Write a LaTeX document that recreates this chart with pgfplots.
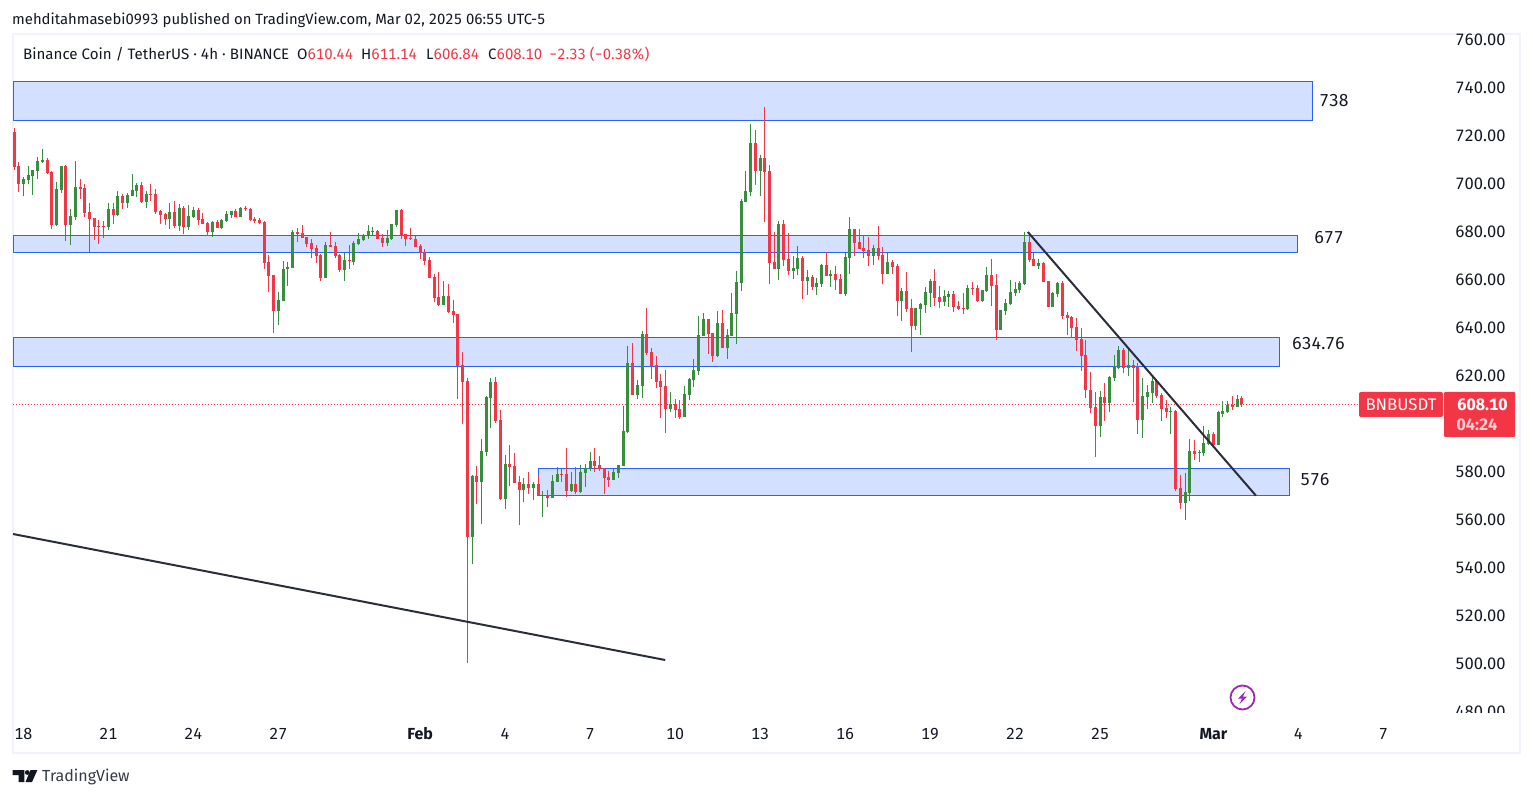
\documentclass[border=0pt]{standalone}
\usepackage{fontspec}
\setmainfont{Fira Sans}[Numbers={Lining,Monospaced}]
\usepackage{pgfplots}
\usepackage{pgfplotstable}
\pgfplotsset{compat=1.18}
\definecolor{cgreen}{HTML}{388E3C}
\definecolor{cred}{HTML}{F23645}
\definecolor{bandfill}{HTML}{D4E0FF}
\definecolor{bandline}{HTML}{2962FF}
\definecolor{ink}{HTML}{131722}
\definecolor{trend}{HTML}{2A2E39}
\definecolor{frame}{HTML}{F0F3FA}
\pgfplotstableread{
i o h l c
0 721.4 722.9 705.4 706.8
1 707.1 708.8 696.2 699.7
2 699.7 702.5 694.6 701.7
3 701.2 707.1 699.6 703.3
4 702.9 705.4 695.0 705.4
5 705.1 710.8 701.7 709.2
6 708.8 714.2 708.3 709.4
7 709.6 710.4 703.8 704.2
8 704.6 705.0 680.8 682.5
9 682.5 700.4 682.1 697.5
10 697.1 707.1 695.8 707.1
11 707.1 707.5 675.8 682.5
12 682.5 689.2 674.2 686.2
13 685.8 709.2 684.6 698.3
14 698.3 701.7 693.3 697.5
15 697.9 699.6 685.8 687.5
16 687.9 691.7 671.1 685.0
17 685.4 685.4 676.2 681.7
18 682.1 684.6 674.6 681.7
19 682.1 684.2 677.1 681.7
20 681.7 691.7 680.4 689.2
21 689.2 691.7 682.9 686.7
22 686.7 696.7 686.2 694.6
23 694.6 695.4 689.2 691.7
24 691.7 695.8 689.6 695.0
25 694.6 703.8 694.6 697.1
26 696.7 700.0 694.2 699.2
27 699.2 700.4 691.7 692.1
28 692.1 696.7 689.6 695.4
29 695.4 699.6 692.5 695.0
30 695.4 697.5 687.1 687.9
31 688.3 688.8 682.9 686.7
32 687.1 687.5 682.5 685.0
33 685.0 691.7 680.8 687.9
34 687.9 692.5 681.2 682.1
35 682.1 691.2 680.0 689.6
36 689.6 690.4 678.7 681.7
37 681.7 690.8 680.4 686.2
38 685.8 690.0 685.4 688.8
39 688.8 689.6 682.5 684.6
40 685.0 687.5 682.9 682.9
41 683.3 683.7 677.9 679.6
42 679.6 684.2 677.5 683.7
43 683.7 684.6 681.2 681.2
44 681.2 685.0 680.8 684.6
45 684.2 688.3 683.7 687.1
46 686.7 688.3 685.4 688.3
47 688.3 689.2 685.8 685.8
48 685.8 690.0 685.8 689.6
49 689.6 690.4 688.3 689.2
50 689.2 689.6 684.2 684.6
51 685.0 685.8 683.3 684.2
52 684.6 685.4 682.9 683.3
53 683.8 684.2 664.2 666.7
54 667.1 670.0 654.6 661.2
55 661.7 661.7 637.5 646.7
56 646.7 654.6 640.8 651.2
57 650.8 667.5 650.8 664.2
58 664.2 667.1 657.1 665.0
59 664.6 680.4 664.6 679.6
60 679.6 681.2 675.4 678.7
61 679.2 682.5 677.1 677.1
62 677.5 677.5 673.3 674.6
63 675.0 676.7 668.8 672.5
64 672.9 674.2 666.7 669.6
65 670.0 670.4 659.2 660.4
66 660.4 675.4 660.4 674.2
67 674.2 679.6 673.3 673.3
68 673.8 675.4 668.8 669.6
69 670.0 670.4 662.9 663.8
70 663.8 670.8 659.2 667.9
71 667.9 674.2 664.2 667.5
72 667.1 675.8 665.8 675.0
73 674.6 679.2 674.2 676.7
74 676.2 678.7 675.8 678.3
75 677.9 682.5 676.7 680.0
76 679.6 681.7 678.3 680.0
77 680.0 680.4 676.7 676.7
78 677.1 678.7 673.3 675.0
79 675.0 680.4 673.8 677.1
80 676.7 682.9 676.2 682.9
81 682.5 688.8 681.7 688.8
82 688.8 689.2 676.7 678.3
83 678.7 678.7 673.8 676.7
84 677.1 681.2 676.2 676.7
85 676.7 677.9 673.3 673.3
86 673.8 674.6 668.3 670.8
87 671.2 672.5 665.8 667.5
88 667.9 669.2 660.4 660.4
89 660.8 662.1 650.4 652.1
90 652.5 662.9 648.8 649.2
91 649.2 659.2 649.2 652.9
92 652.9 657.9 645.8 646.2
93 646.7 651.2 641.7 645.0
94 645.4 645.4 610.0 623.8
95 624.2 629.6 599.6 617.1
96 617.5 618.8 500.0 552.5
97 552.5 578.3 541.2 577.9
98 577.9 582.1 566.2 575.4
99 575.4 593.3 557.9 588.3
100 587.9 611.2 586.2 610.8
101 610.4 618.8 597.9 617.1
102 617.1 619.2 600.0 600.8
103 601.2 605.4 567.9 568.3
104 568.3 586.7 564.2 582.9
105 582.9 590.8 573.8 581.7
106 582.1 587.5 575.0 575.0
107 575.4 577.9 557.5 572.1
108 572.1 577.1 567.1 574.6
109 574.6 579.6 570.4 572.9
110 572.9 575.4 567.9 574.6
111 574.6 578.3 569.6 569.6
112 569.6 571.7 560.8 570.0
113 570.0 572.1 565.0 568.8
114 568.8 578.3 568.8 575.8
115 575.4 581.7 575.4 578.8
116 578.8 580.8 575.4 578.3
117 578.8 589.6 569.2 571.7
118 571.7 579.6 571.2 574.6
119 574.6 581.7 570.4 571.2
120 571.2 582.5 570.8 579.6
121 579.2 582.9 573.3 581.2
122 580.8 587.9 580.0 584.2
123 584.2 589.6 579.6 582.1
124 582.5 586.2 580.0 580.8
125 581.2 581.2 570.4 577.1
126 577.5 580.0 573.3 576.2
127 576.2 580.8 576.2 579.6
128 579.2 582.5 577.1 582.5
129 582.1 607.1 582.1 596.7
130 596.2 632.1 595.8 625.0
131 625.0 633.3 611.7 611.7
132 611.7 617.9 610.0 615.8
133 615.4 638.3 610.4 637.1
134 637.1 647.9 628.3 629.2
135 629.6 631.2 618.3 623.8
136 624.2 627.9 614.6 617.1
137 617.5 620.4 602.1 615.0
138 615.4 622.1 595.8 605.8
139 605.8 612.9 604.6 607.9
140 607.9 610.0 602.1 605.4
141 605.8 609.6 601.7 602.5
142 602.5 615.4 602.5 612.1
143 611.7 618.8 609.6 618.3
144 617.9 626.7 615.0 622.1
145 621.7 644.6 620.0 636.7
146 636.2 645.8 636.2 643.3
147 643.3 643.3 628.8 637.1
148 637.5 637.5 625.4 627.9
149 627.9 646.7 627.5 641.7
150 641.7 647.1 631.2 631.2
151 631.2 639.2 626.7 636.7
152 636.2 654.2 636.2 645.8
153 645.4 663.3 632.9 658.8
154 658.3 693.3 655.0 692.5
155 692.1 705.0 692.1 696.7
156 696.2 724.6 694.6 716.7
157 716.7 722.1 699.2 705.0
158 705.0 711.7 694.6 710.4
159 710.4 731.7 683.7 704.6
160 705.0 707.5 657.9 666.7
161 667.1 679.6 664.2 664.2
162 664.2 684.2 659.6 682.9
163 682.9 684.6 665.4 667.9
164 668.3 679.2 661.7 663.3
165 663.3 669.6 660.0 664.6
166 664.2 673.8 661.7 668.8
167 668.8 669.6 651.7 659.2
168 659.2 663.8 653.3 660.8
169 660.8 661.7 655.4 656.7
170 656.7 660.4 653.3 658.3
171 657.9 666.2 656.7 665.8
172 665.8 671.2 661.2 661.2
173 661.2 663.8 656.7 662.1
174 662.1 665.4 655.4 659.6
175 660.0 662.1 653.8 653.8
176 653.8 670.8 652.9 669.2
177 668.8 685.8 662.1 680.8
178 680.8 680.8 669.6 675.0
179 675.4 680.8 672.5 672.5
180 672.9 677.9 668.8 671.7
181 672.1 677.5 665.4 669.6
182 669.6 674.2 665.8 672.9
183 672.9 682.1 667.9 669.6
184 670.0 673.3 657.9 662.1
185 662.1 670.8 662.1 667.1
186 667.1 667.9 662.1 665.0
187 665.4 666.2 644.6 650.8
188 650.8 656.2 642.5 655.0
189 655.0 662.9 646.2 647.5
190 647.9 651.7 629.6 640.4
191 640.4 647.9 638.8 647.9
192 647.5 650.0 636.7 649.6
193 649.2 656.7 645.8 654.6
194 654.2 660.0 648.3 659.2
195 659.2 664.2 648.8 652.1
196 652.5 657.1 647.9 650.4
197 650.4 655.4 648.8 652.9
198 652.5 655.0 648.3 653.8
199 653.8 655.0 646.2 648.3
200 648.8 650.8 647.1 647.5
201 647.9 654.2 645.4 647.5
202 647.5 657.5 647.1 656.2
203 656.2 658.8 653.3 655.8
204 656.2 657.5 650.4 650.8
205 650.8 655.4 650.4 655.4
206 655.0 665.0 654.6 661.7
207 661.7 668.3 648.8 657.1
208 657.5 662.1 634.6 638.8
209 638.8 647.1 638.8 647.1
210 646.7 651.7 645.0 650.0
211 649.6 659.6 649.2 654.6
212 654.2 658.8 652.9 655.8
213 655.4 659.2 654.2 658.3
214 657.9 679.6 657.5 675.4
215 675.4 678.3 667.1 667.9
216 668.3 670.8 665.4 665.4
217 665.4 668.3 664.2 666.7
218 666.7 667.1 658.8 658.8
219 659.2 659.2 648.3 648.3
220 648.3 654.6 648.3 654.2
221 653.8 658.8 652.5 658.3
222 658.3 659.2 643.3 644.6
223 645.0 646.2 636.7 643.8
224 644.2 644.6 635.4 639.6
225 640.0 643.8 630.0 634.6
226 635.0 639.6 621.7 627.9
227 628.3 634.6 610.4 613.8
228 613.8 621.2 604.2 606.2
229 606.7 612.9 585.8 598.7
230 598.7 613.3 594.2 610.8
231 610.8 616.7 600.8 608.3
232 608.3 619.6 604.6 619.2
233 618.8 628.3 617.5 623.8
234 622.9 632.1 622.5 630.4
235 630.4 631.2 620.8 622.9
236 622.9 631.2 619.6 624.2
237 624.2 626.2 608.8 622.9
238 623.3 625.0 595.4 601.2
239 601.2 618.8 593.7 611.2
240 610.8 615.8 605.8 612.9
241 612.5 620.0 608.3 617.5
242 617.5 617.9 610.4 611.2
243 611.7 612.5 600.8 605.8
244 606.2 609.6 602.1 604.6
245 604.6 606.7 595.4 605.0
246 605.0 605.4 571.7 572.5
247 572.9 578.3 564.2 566.7
248 566.7 579.2 559.6 571.2
249 570.8 593.3 567.5 588.3
250 588.3 592.9 584.6 587.1
251 587.5 588.8 583.8 587.9
252 587.5 598.8 586.2 591.7
253 591.2 597.1 590.8 595.4
254 595.4 596.2 590.4 590.8
255 590.8 605.0 590.8 604.6
256 603.8 609.2 602.5 605.0
257 604.6 609.2 604.2 607.5
258 607.5 611.2 605.4 606.7
259 606.7 611.7 606.7 610.0
260 610.44 611.14 606.84 608.10
}\cand
\newcommand{\fs}[1]{\fontsize{#1}{#1}\selectfont}
\begin{document}
\begin{tikzpicture}[x=1pt,y=1pt]
\useasboundingbox (0,0) rectangle (1533,798);
\fill[white] (0,0) rectangle (1533,798);
% frame
\draw[frame,line width=2pt] (12.5,45) -- (12.5,764) -- (1520,764) -- (1520,45) -- cycle;
\begin{axis}[
  at={(13pt,87pt)}, anchor=south west, scale only axis,
  width=1430pt, height=676pt,
  xmin=-0.2118, xmax=302.63, ymin=480, ymax=761.67,
  axis line style={draw=none},
  major tick length=0pt,
  unbounded coords=discard,
  xtick={2,20,38,56,86,104,122,140,158,176,194,212,230,254,272,290},
  xticklabels={18,21,24,27,{\fontseries{sb}\selectfont Feb},4,7,10,13,16,19,22,25,{\fontseries{sb}\selectfont Mar},4,7},
  xticklabel style={anchor=base,yshift=-28pt,font=\fs{16},text=ink},
  ytick={480,500,520,540,560,580,620,640,660,680,700,720,740,760},
  yticklabel pos=right,
  yticklabel style={anchor=east,xshift=66pt,yshift=-0.7pt,font=\fs{16.5},text=ink,
    /pgf/number format/.cd,fixed,fixed zerofill,precision=2,assume math mode=true},
]
% zones
\addplot[forget plot,draw=bandline,fill=bandfill,line width=1pt] coordinates {(-0.21,742.1)(274.9,742.1)(274.9,726.0)(-0.21,726.0)} -- cycle;
\addplot[forget plot,draw=bandline,fill=bandfill,line width=1pt] coordinates {(-0.21,678.2)(271.9,678.2)(271.9,671.2)(-0.21,671.2)} -- cycle;
\addplot[forget plot,draw=bandline,fill=bandfill,line width=1pt] coordinates {(-0.21,635.7)(268.0,635.7)(268.0,623.6)(-0.21,623.6)} -- cycle;
\addplot[forget plot,draw=bandline,fill=bandfill,line width=1pt] coordinates {(111.0,581.1)(270.1,581.1)(270.1,569.9)(111.0,569.9)} -- cycle;
% price line
\addplot[forget plot,color=cred,line width=1.1pt,line cap=butt,dash pattern=on 1.2pt off 1.8pt] coordinates {(-0.21,607.8)(284.6,607.8)};
% wicks up
\addplot[forget plot,draw=none,no markers,error bars/.cd,y dir=both,y explicit,error mark=none,error bar style={line width=1pt,draw=cgreen}]
  table[x expr={\thisrow{c}>=\thisrow{o}?\thisrow{i}:nan},y=o,y error plus expr=\thisrow{h}-\thisrow{o},y error minus expr=\thisrow{o}-\thisrow{l}] {\cand};
% wicks down
\addplot[forget plot,draw=none,no markers,error bars/.cd,y dir=both,y explicit,error mark=none,error bar style={line width=1pt,draw=cred}]
  table[x expr={\thisrow{c}<\thisrow{o}?\thisrow{i}:nan},y=o,y error plus expr=\thisrow{h}-\thisrow{o},y error minus expr=\thisrow{o}-\thisrow{l}] {\cand};
% bodies up
\addplot[forget plot,draw=none,no markers,error bars/.cd,y dir=plus,y explicit,error mark=none,error bar style={line width=3pt,draw=cgreen}]
  table[x expr={\thisrow{c}>=\thisrow{o}?\thisrow{i}:nan},y=o,y error plus expr=\thisrow{c}-\thisrow{o}] {\cand};
% bodies down
\addplot[forget plot,draw=none,no markers,error bars/.cd,y dir=plus,y explicit,error mark=none,error bar style={line width=3pt,draw=cred}]
  table[x expr={\thisrow{c}<\thisrow{o}?\thisrow{i}:nan},y=c,y error plus expr=\thisrow{o}-\thisrow{c}] {\cand};
% trend lines
\addplot[forget plot,draw=trend,line width=2pt] coordinates {(-0.21,553.75)(137.9,501.25)};
\addplot[forget plot,draw=trend,line width=2pt] coordinates {(214.7,679.6)(263.0,569.75)};
\end{axis}
\begin{scope}[x=1pt,y=-1pt,shift={(0,798pt)}]
\fill[white] (1444,713) rectangle (1518,746);
\node[anchor=west,inner sep=0,text=ink,font=\fs{14.85}] at (12,20) {mehditahmasebi0993 published on TradingView.com, Mar 02, 2025 06:55 UTC-5};
\node[anchor=west,inner sep=0,text=ink,font=\fs{15.1}] at (23,54) {Binance Coin / TetherUS · 4h · BINANCE};
\node[anchor=west,inner sep=0,font=\fs{15},text=ink] at (297,54) {O\textcolor{cred}{610.44}};
\node[anchor=west,inner sep=0,font=\fs{15},text=ink] at (361,54) {H\textcolor{cred}{611.14}};
\node[anchor=west,inner sep=0,font=\fs{15},text=ink] at (426,54) {L\textcolor{cred}{606.84}};
\node[anchor=west,inner sep=0,font=\fs{15},text=ink] at (488,54) {C\textcolor{cred}{608.10}};
\node[anchor=west,inner sep=0,font=\fs{14.8},text=cred] at (549,54) {−2.33 (−0.38\%)};
\node[anchor=center,text=ink,font=\fs{17.3}] at (1334,101) {738};
\node[anchor=center,text=ink,font=\fs{17.3}] at (1329,238) {677};
\node[anchor=center,text=ink,font=\fs{17.3}] at (1318.5,344) {634.76};
\node[anchor=center,text=ink,font=\fs{17.3}] at (1315,480) {576};
% price tags
\fill[cred,rounded corners=2pt] (1359,392) rectangle (1443,417);
\fill[cred,rounded corners=1pt] (1444,392) rectangle (1515,437);
\node[text=white,font=\fs{16.8}] at (1401,405) {BNBUSDT};
\node[text=white,inner sep=0,font=\fs{16.5}\fontseries{sb}\selectfont] at (1482.5,405) {608.10};
\node[text=white,inner sep=0,opacity=0.75,font=\fs{16.5}\fontseries{sb}\selectfont] at (1477,424.5) {04:24};
% lightning icon
\draw[color={rgb,255:red,156;green,39;blue,176},line width=1.8pt] (1242.5,697.5) circle (12);
\fill[color={rgb,255:red,156;green,39;blue,176}] (1245.5,691) -- (1238,698.5) -- (1242,698.5) -- (1239.5,704) -- (1247,696.5) -- (1243,696.5) -- cycle;
% logo
\fill[ink] (12.7,770) -- (24.3,770) -- (24.3,782) -- (18.5,782) -- (18.5,775) -- (12.7,775) -- cycle;
\fill[ink] (27.3,772.5) circle (2.4);
\fill[ink] (30.5,770) -- (37.4,770) -- (32,782) -- (25.5,782) -- cycle;
\node[anchor=west,inner sep=0,text=ink!85,font=\fs{16}] at (42,777) {TradingView};
\end{scope}
\end{tikzpicture}
\end{document}
